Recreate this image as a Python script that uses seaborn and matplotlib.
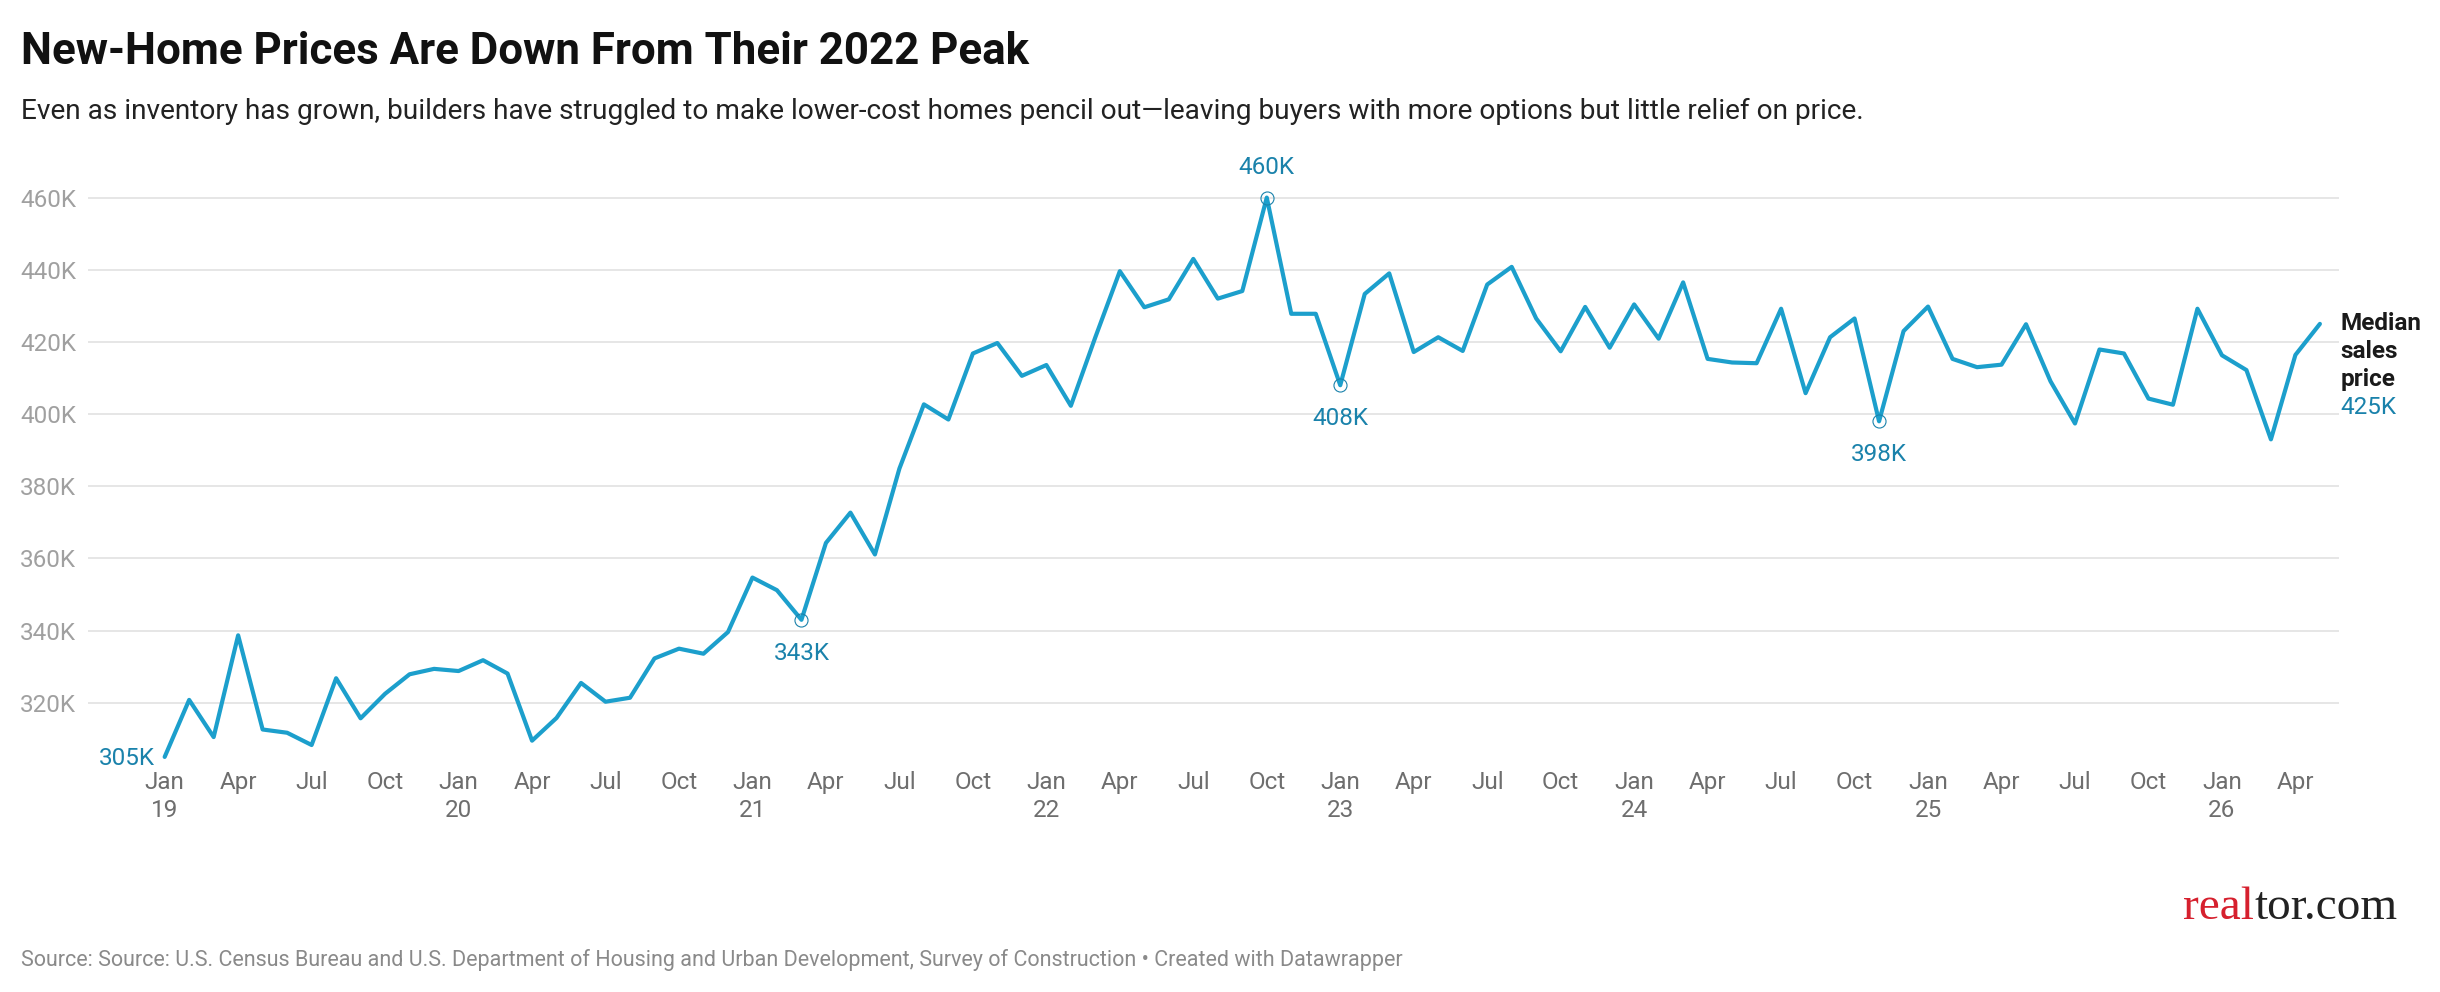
import numpy as np
import pandas as pd
import matplotlib
matplotlib.use("Agg")
import matplotlib.pyplot as plt
import seaborn as sns

# monthly median sales price of new homes, thousands of dollars (Jan 2019 - May 2026)
price_2019 = [305.0, 320.8, 310.5, 338.7, 312.6, 311.7, 308.3, 326.8, 315.7, 322.5, 327.9, 329.4]
price_2020 = [328.8, 331.8, 328.1, 309.5, 315.8, 325.5, 320.3, 321.4, 332.3, 335.0, 333.6, 339.6]
price_2021 = [354.7, 351.2, 343.0, 364.3, 372.7, 361.1, 384.9, 402.7, 398.5, 416.8, 419.7, 410.6]
price_2022 = [413.6, 402.3, 421.3, 439.6, 429.6, 431.8, 443.0, 432.0, 434.1, 460.0, 427.8, 427.8]
price_2023 = [408.0, 433.3, 439.0, 417.2, 421.3, 417.5, 435.9, 440.8, 426.5, 417.4, 429.7, 418.4]
price_2024 = [430.4, 420.9, 436.5, 415.3, 414.3, 414.1, 429.2, 405.8, 421.3, 426.5, 398.0, 423.0]
price_2025 = [429.8, 415.3, 413.0, 413.7, 424.9, 409.1, 397.4, 417.9, 416.8, 404.3, 402.6, 429.2]
price_2026 = [416.3, 412.2, 393.0, 416.4, 425.0]

prices = price_2019 + price_2020 + price_2021 + price_2022 + price_2023 + price_2024 + price_2025 + price_2026
months = pd.date_range("2019-01-01", periods=len(prices), freq="MS")

y_ticks = [320, 340, 360, 380, 400, 420, 440, 460]
labels_below = ["2021-03", "2023-01", "2024-11"]   # 343K, 408K, 398K
labels_above = ["2022-10"]                          # 460K
series_name = "Median\nsales\nprice"

title = "New-Home Prices Are Down From Their 2022 Peak"
subtitle = ("Even as inventory has grown, builders have struggled to make lower-cost homes "
            "pencil out\u2014leaving buyers with more options but little relief on price.")
source = ("Source: Source: U.S. Census Bureau and U.S. Department of Housing and Urban "
          "Development, Survey of Construction \u2022 Created with Datawrapper")

df = pd.DataFrame({"month": months, "price": prices})
df["idx"] = np.arange(len(df))

LINE = "#1c9fcc"
LABEL = "#1a82ab"

sns.set_theme(style="white")
plt.rcParams["font.family"] = ["Roboto", "DejaVu Sans"]

fig = plt.figure(figsize=(24.4, 9.92), dpi=100)
ax = fig.add_axes([0.03607, 0.2297, 0.92254, 0.5784])

for v in y_ticks:
    ax.axhline(v, color="#e1e1e1", lw=1.2, zorder=0)

sns.lineplot(data=df, x="idx", y="price", ax=ax, color=LINE, lw=3.0, zorder=3)

ax.set_xlim(-3.13, len(df) - 1 + 0.78)
ax.set_ylim(303, 462)
sns.despine(ax=ax, left=True, bottom=True)
ax.set_xlabel("")
ax.set_ylabel("")

ax.set_yticks(y_ticks)
ax.set_yticklabels([f"{v}K" for v in y_ticks])
ax.tick_params(axis="y", length=0, pad=8.6, labelsize=17.5, labelcolor="#a0a0a0")

tick_idx = df["idx"][df["month"].dt.month.isin([1, 4, 7, 10])]
tick_lab = []
for i in tick_idx:
    m = df["month"].iloc[i]
    tick_lab.append(m.strftime("%b") + ("\n" + m.strftime("%y") if m.month == 1 else ""))
ax.set_xticks(tick_idx)
ax.set_xticklabels(tick_lab)
ax.tick_params(axis="x", length=0, pad=5, labelsize=17.5, labelcolor="#6e6e6e")
for t in ax.get_xticklabels():
    t.set_linespacing(1.3)

# highlighted points
for key, dy in [(k, -24) for k in labels_below] + [(k, 21.6) for k in labels_above]:
    row = df[df["month"] == pd.Timestamp(key + "-01")].iloc[0]
    ax.plot(row["idx"], row["price"], marker="o", ms=9.4, mfc="none", mec=LABEL, mew=0.8, zorder=4)
    ax.annotate(f"{row['price']:.0f}K", (row["idx"], row["price"]), xytext=(0, dy),
                textcoords="offset points", ha="center", va="center", fontsize=17.5, color=LABEL)

first = df.iloc[0]
ax.annotate(f"{first['price']:.0f}K", (first["idx"], first["price"]), xytext=(-7.2, -1),
            textcoords="offset points", ha="right", va="center", fontsize=17.5, color=LABEL)

last = df.iloc[-1]
for k, line in enumerate(series_name.split("\n")):
    ax.annotate(line, (last["idx"], last["price"]), xytext=(14.9, -20.1 * k),
                textcoords="offset points", ha="left", va="center", fontsize=17.5,
                fontweight="bold", color="#1a1a1a", annotation_clip=False)
ax.annotate(f"{last['price']:.0f}K", (last["idx"], last["price"]), xytext=(14.9, -60.3),
            textcoords="offset points", ha="left", va="center", fontsize=17.5, color=LABEL,
            annotation_clip=False)

fig.text(0.0086, 0.935, title, fontsize=31.6, fontweight="bold", color="#111111", va="baseline")
fig.text(0.0086, 0.880, subtitle, fontsize=20.2, color="#222222", va="baseline")
fig.text(0.0086, 0.0262, source, fontsize=15.5, color="#8a8a8a", va="baseline")

# logo
real = fig.text(0.8947, 0.0736, "real", fontsize=34, color="#d6202e", va="baseline",
                family=["Liberation Serif", "DejaVu Serif"])
fig.add_artist(matplotlib.text.Annotation("tor.com", xy=(1, 0), xycoords=real, va="bottom",
                                          fontsize=34, color="#222222",
                                          family=["Liberation Serif", "DejaVu Serif"]))

fig.savefig("out.png", dpi=100, facecolor="white")
